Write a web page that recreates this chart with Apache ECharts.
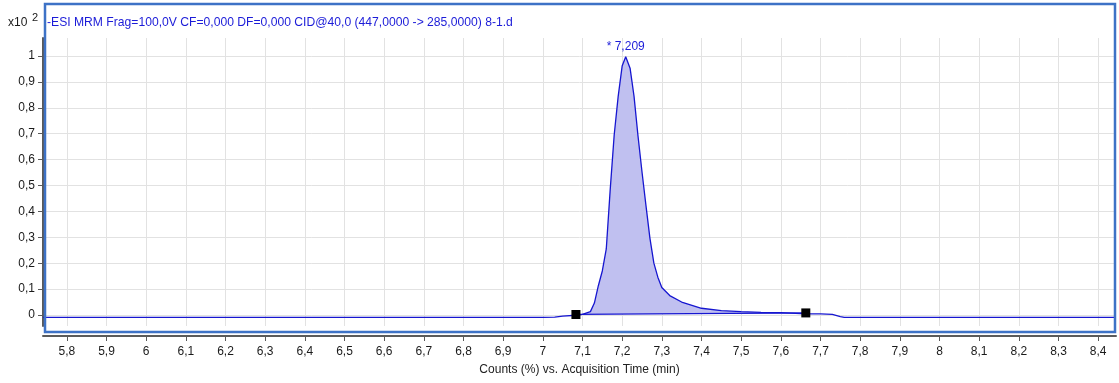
<!DOCTYPE html>
<html>
<head>
<meta charset="utf-8">
<script src="https://cdn.jsdelivr.net/npm/echarts@6/dist/echarts.min.js"></script>
<style>
html,body{margin:0;padding:0;background:#fff;}
#c{width:1119px;height:383px;}
</style>
</head>
<body>
<div id="c"></div>
<script>
// ---- data ----
var titleText = '-ESI MRM Frag=100,0V CF=0,000 DF=0,000 CID@40,0 (447,0000 -> 285,0000) 8-1.d';
var xAxisTitle = 'Counts (%) vs. Acquisition Time (min)';
var xTicks = [5.8,5.9,6.0,6.1,6.2,6.3,6.4,6.5,6.6,6.7,6.8,6.9,7.0,7.1,7.2,7.3,7.4,7.5,7.6,7.7,7.8,7.9,8.0,8.1,8.2,8.3,8.4];
var xTickLabels = ['5,8','5,9','6','6,1','6,2','6,3','6,4','6,5','6,6','6,7','6,8','6,9','7','7,1','7,2','7,3','7,4','7,5','7,6','7,7','7,8','7,9','8','8,1','8,2','8,3','8,4'];
var yTicks = [0,0.1,0.2,0.3,0.4,0.5,0.6,0.7,0.8,0.9,1.0];
var yTickLabels = ['0','0,1','0,2','0,3','0,4','0,5','0,6','0,7','0,8','0,9','1'];
var times = [5.74,7.0,7.03,7.05,7.0835,7.1,7.12,7.13,7.14,7.15,7.16,7.17,7.18,7.19,7.20,7.209,7.22,7.23,7.24,7.25,7.26,7.27,7.28,7.29,7.30,7.32,7.35,7.40,7.45,7.50,7.55,7.60,7.65,7.663,7.70,7.73,7.75,7.76,8.445];
var counts = [-0.009,-0.009,-0.008,-0.004,-0.001,0.002,0.013,0.046,0.113,0.17,0.255,0.486,0.696,0.844,0.961,0.997,0.953,0.844,0.691,0.553,0.423,0.297,0.2,0.146,0.106,0.075,0.05,0.026,0.017,0.013,0.010,0.009,0.005,0.004,0.004,0.002,-0.006,-0.009,-0.009];
var peakTime = 7.209, peakValue = 0.997, peakLabel = '* 7,209';
var integStart = [7.0835, 0.002];
var integEnd = [7.663, 0.008];

// ---- build ----
var curve = times.map(function(t,i){return [t,counts[i]];});
var fillPts = curve.filter(function(p){return p[0]>=integStart[0] && p[0]<=integEnd[0];});
var xLabelMap = {}; xTicks.forEach(function(v,i){xLabelMap[v.toFixed(1)]=xTickLabels[i];});
var yLabelMap = {}; yTicks.forEach(function(v,i){yLabelMap[v.toFixed(1)]=yTickLabels[i];});

var chart = echarts.init(document.getElementById('c'), null, {renderer:'canvas'});
var font = 'Liberation Sans, Arial, sans-serif';
chart.setOption({
  animation:false,
  backgroundColor:'#ffffff',
  textStyle:{fontFamily:font},
  title:{text:titleText,left:42,top:12,textStyle:{fontFamily:font,fontSize:12.15,fontWeight:'normal',color:'#1c1cd8'}},
  grid:{left:43,right:3,top:38,bottom:57,containLabel:false},
  xAxis:{
    type:'value',min:5.74,max:8.445,offset:10,
    name:xAxisTitle,nameLocation:'middle',nameGap:28,
    nameTextStyle:{fontFamily:font,fontSize:12,color:'#222'},
    axisLine:{show:true,onZero:false,lineStyle:{color:'#5a5a5a',width:2}},
    axisTick:{show:true,length:5,customValues:xTicks,lineStyle:{color:'#5a5a5a'}},
    axisLabel:{customValues:xTicks,margin:10,fontSize:12,color:'#1a1a1a',fontFamily:font,
      formatter:function(v){return xLabelMap[v.toFixed(1)]||'';}},
    splitLine:{show:true,lineStyle:{color:'#e2e2e2',width:1}}
  },
  yAxis:{
    type:'value',min:-0.0425,max:1.0695,
    axisLine:{show:true,lineStyle:{color:'#5a5a5a',width:2}},
    axisTick:{show:true,length:5,customValues:yTicks,lineStyle:{color:'#5a5a5a'}},
    axisLabel:{customValues:yTicks,margin:8,fontSize:12,color:'#1a1a1a',fontFamily:font,
      formatter:function(v){return yLabelMap[v.toFixed(1)]||'';}},
    splitLine:{show:true,lineStyle:{color:'#e2e2e2',width:1}}
  },
  series:[
    {type:'line',data:fillPts,symbol:'none',lineStyle:{width:0,opacity:0},
     areaStyle:{color:'#c0c0f0',opacity:1,origin:0.004},z:2,silent:true},
    {type:'line',data:curve,symbol:'none',lineStyle:{color:'#1616d0',width:1.3},z:3,silent:true},
    {type:'line',data:[integStart,integEnd],symbol:'none',lineStyle:{color:'#1616d0',width:1.3},z:3,silent:true},
    {type:'scatter',data:[integStart,integEnd],symbol:'rect',symbolSize:9,itemStyle:{color:'#000',opacity:1},z:5,silent:true},
    {type:'scatter',data:[[peakTime,peakValue]],symbolSize:0,itemStyle:{opacity:1},z:5,silent:true,
     label:{show:true,position:'top',distance:4,formatter:peakLabel,fontSize:12,color:'#1c1cd8',fontFamily:font}}
  ],
  graphic:[
    {type:'rect',shape:{x:45,y:4,width:1070,height:328},style:{fill:null,stroke:'#3d72c6',lineWidth:2.5},z:100,silent:true},
    {type:'text',x:8,y:17,style:{text:'x10',fontSize:12,fontFamily:font,fill:'#1a1a1a'},z:100},
    {type:'text',x:32,y:12,style:{text:'2',fontSize:11,fontFamily:font,fill:'#1a1a1a'},z:100}
  ]
});
</script>
</body>
</html>
